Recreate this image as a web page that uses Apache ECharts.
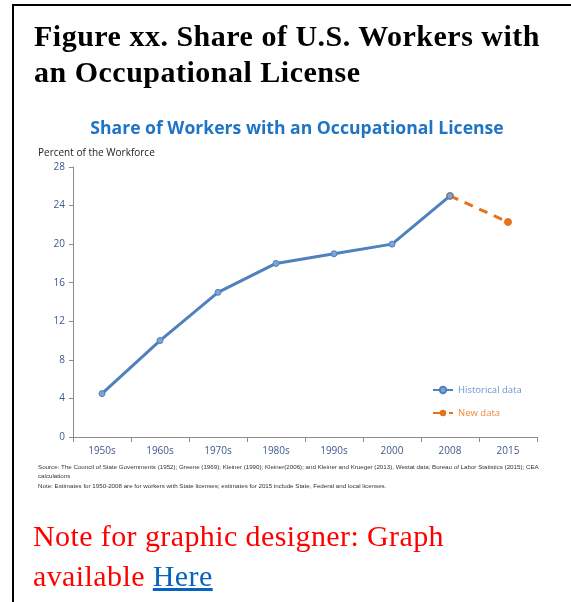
<!DOCTYPE html>
<html>
<head>
<meta charset="utf-8">
<script src="https://cdn.jsdelivr.net/npm/echarts@6/dist/echarts.min.js"></script>
<style>
  html, body { margin: 0; padding: 0; background: #fff; }
  #wrap { position: relative; width: 571px; height: 602px; overflow: hidden; }
  #chart { position: absolute; left: 0; top: 0; width: 571px; height: 602px; }
  #frameL { position: absolute; left: 12px; top: 4px; width: 2px; height: 600px; background: #000; }
  #frameT { position: absolute; left: 12px; top: 4px; width: 560px; height: 2px; background: #000; }
  #figtitle { position: absolute; left: 34px; top: 18px; font-family: "Liberation Serif", "DejaVu Serif", serif; font-weight: bold; font-size: 30px; letter-spacing: 0.5px; line-height: 36px; color: #000; white-space: nowrap; }
  #note { position: absolute; left: 33px; top: 516px; font-family: "Liberation Serif", "DejaVu Serif", serif; font-size: 30px; letter-spacing: 0.4px; line-height: 40px; color: #ff0000; white-space: nowrap; }
  #note a { color: #0563C1; text-decoration: underline; }
</style>
</head>
<body>
<div id="wrap">
  <div id="chart"></div>
  <div id="frameL"></div>
  <div id="frameT"></div>
  <div id="figtitle">Figure xx. Share of U.S. Workers with<br>an Occupational License</div>
  <div id="note">Note for graphic designer: Graph<br>available <a href="#">Here</a></div>
</div>
<script>
const categories = ['1950s', '1960s', '1970s', '1980s', '1990s', '2000', '2008', '2015'];
const historicalData = [4.5, 10, 15, 18, 19, 20, 25, null];
const newData = [null, null, null, null, null, null, 25, 22.3];
const yTicks = [0, 4, 8, 12, 16, 20, 24, 28];
const chartTitle = 'Share of Workers with an Occupational License';
const yAxisName = 'Percent of the Workforce';
const sourceLines = [
  'Source: The Council of State Governments (1952); Greene (1969); Kleiner (1990); Kleiner(2006); and Kleiner and Krueger (2013), Westat data; Bureau of Labor Statistics (2015); CEA',
  'calculations',
  'Note: Estimates for 1950-2008 are for workers with State licenses; estimates for 2015 include State, Federal and local licenses.'
];

const blue = '#4F81BD';
const orange = '#E8711C';
const axisText = '#3F5A8A';
const font = '"Open Sans", "Liberation Sans", sans-serif';
const smallFont = '"Liberation Sans", sans-serif';

const chart = echarts.init(document.getElementById('chart'), null, { renderer: 'canvas' });
chart.setOption({
  animation: false,
  title: {
    text: chartTitle,
    left: 292, top: 115, textAlign: 'center',
    textStyle: { color: '#1F74C4', fontSize: 17.6, fontWeight: 'bold', fontFamily: font }
  },
  grid: { left: 73, top: 167, width: 464, height: 270, containLabel: false },
  legend: {
    orient: 'vertical', left: 427, top: 380, itemGap: 13, itemWidth: 20, itemHeight: 8,
    textStyle: { fontSize: 9.5, fontFamily: font },
    data: [
      { name: 'Historical data', textStyle: { color: '#6C95CF' } },
      { name: 'New data', textStyle: { color: '#EE8A3E' } }
    ]
  },
  xAxis: {
    type: 'category', data: categories, boundaryGap: true,
    axisLine: { lineStyle: { color: '#8C8C8C', width: 1 } },
    axisTick: { show: true, length: 5, lineStyle: { color: '#8C8C8C' } },
    axisLabel: { color: axisText, fontSize: 10, fontFamily: font, margin: 9 },
    splitLine: { show: false }
  },
  yAxis: {
    type: 'value', min: 0, max: 28, interval: 4,
    axisLine: { show: true, lineStyle: { color: '#8C8C8C', width: 1 } },
    axisTick: { show: true, length: 4, lineStyle: { color: '#8C8C8C' } },
    axisLabel: { color: axisText, fontSize: 10, fontFamily: font, margin: 8,
      formatter: v => yTicks.includes(v) ? String(v) : '' },
    splitLine: { show: false }
  },
  graphic: [
    { type: 'text', left: 38, top: 148, style: { text: yAxisName, fontSize: 10, fontFamily: font, fill: '#222' } },
    { type: 'text', left: 38, top: 463, style: { text: sourceLines.slice(0, 2).join('\n'), fontSize: 6.2, lineHeight: 9, fontFamily: smallFont, fill: '#333' } },
    { type: 'text', left: 38, top: 483, style: { text: sourceLines[2], fontSize: 6.2, fontFamily: smallFont, fill: '#333' } }
  ],
  series: [
    {
      name: 'Historical data', type: 'line', data: historicalData,
      symbol: 'circle', symbolSize: 6, showSymbol: true,
      lineStyle: { color: blue, width: 3 },
      itemStyle: { color: '#7EA3D6', borderColor: blue, borderWidth: 1 },
      z: 3
    },
    {
      name: 'New data', type: 'line', data: newData,
      symbol: 'circle', symbolSize: 7,
      lineStyle: { color: orange, width: 3, type: [9, 7] },
      itemStyle: { color: orange, borderColor: orange },
      z: 2
    }
  ]
});
</script>
</body>
</html>
